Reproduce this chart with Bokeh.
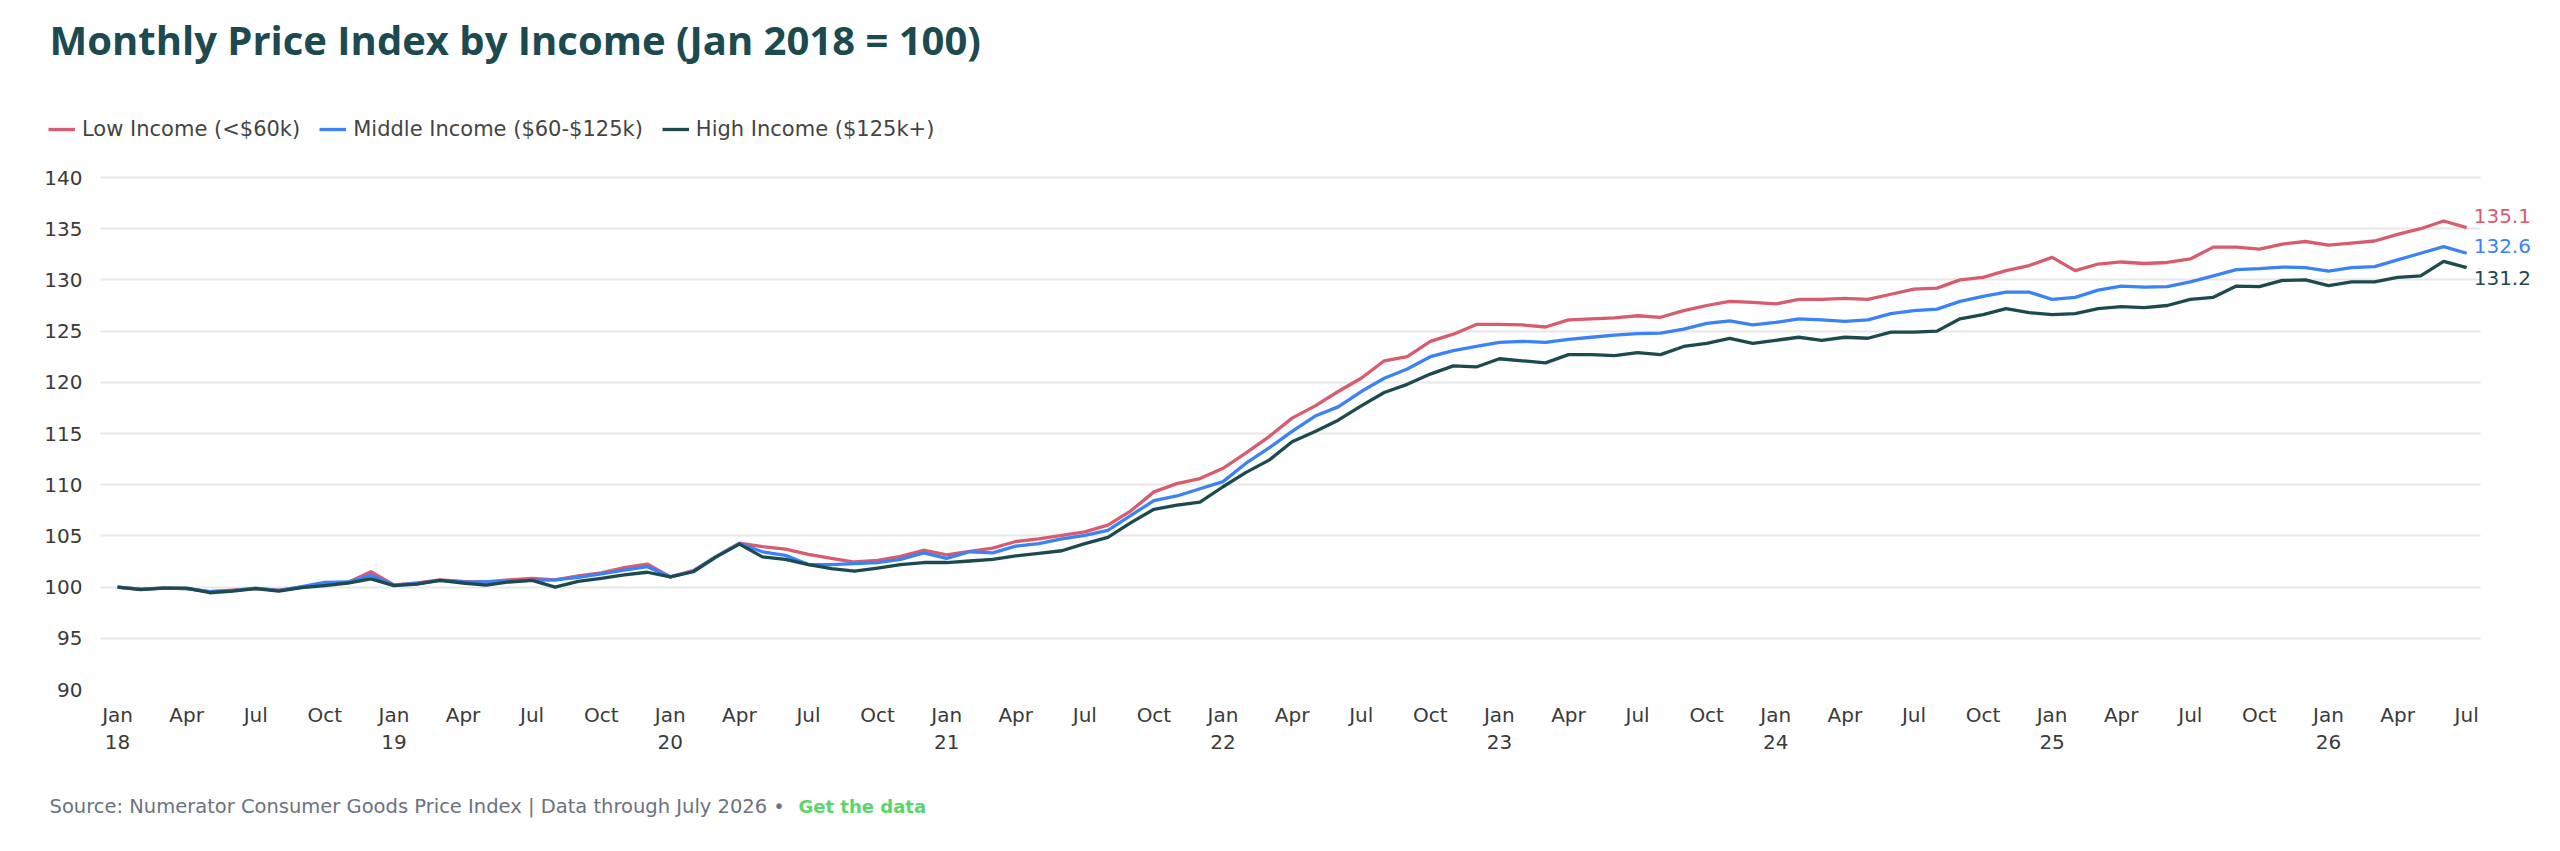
from bokeh.plotting import figure
from bokeh.layouts import column
from bokeh.models import (ColumnDataSource, Range1d, FixedTicker, Legend, LegendItem, Label)
from bokeh.embed import file_html
from bokeh.resources import INLINE

# monthly index, Jan 2018 .. Jul 2026 (Jan 2018 = 100)
low = [100.0, 99.8, 99.9, 99.85, 99.55, 99.7, 99.85, 99.7, 100.0, 100.35, 100.45, 101.5,
       100.2, 100.4, 100.7, 100.55, 100.5, 100.7, 100.85, 100.7, 101.1, 101.4, 101.9, 102.25,
       101.0, 101.6, 103.0, 104.3, 103.95, 103.7, 103.2, 102.8, 102.45, 102.6, 103.0, 103.6,
       103.15, 103.5, 103.8, 104.45, 104.7, 105.05, 105.4, 106.05, 107.45, 109.3, 110.1, 110.6,
       111.6, 113.1, 114.7, 116.5, 117.7, 119.1, 120.4, 122.1, 122.5, 124.0, 124.7, 125.65,
       125.65, 125.6, 125.4, 126.1, 126.2, 126.3, 126.5, 126.35, 127.0, 127.5, 127.9, 127.8,
       127.65, 128.1, 128.1, 128.2, 128.1, 128.6, 129.1, 129.2, 130.0, 130.25, 130.9, 131.4,
       132.2, 130.9, 131.55, 131.75, 131.6, 131.7, 132.05, 133.2, 133.2, 133.0, 133.5, 133.75,
       133.4, 133.6, 133.8, 134.45, 135.0, 135.75, 135.1]
middle = [100.0, 99.8, 99.9, 99.85, 99.55, 99.65, 99.9, 99.65, 100.05, 100.45, 100.5, 101.15,
          100.2, 100.35, 100.65, 100.5, 100.5, 100.6, 100.65, 100.7, 100.95, 101.3, 101.65, 102.0,
          101.0, 101.55, 103.0, 104.25, 103.45, 103.1, 102.2, 102.2, 102.3, 102.4, 102.7, 103.35,
          102.8, 103.45, 103.35, 104.0, 104.25, 104.7, 105.05, 105.55, 107.0, 108.45, 108.9, 109.6,
          110.3, 112.1, 113.6, 115.2, 116.7, 117.6, 119.1, 120.4, 121.3, 122.5, 123.1, 123.5,
          123.9, 124.0, 123.9, 124.2, 124.4, 124.6, 124.75, 124.8, 125.2, 125.75, 126.0, 125.6,
          125.85, 126.2, 126.1, 125.95, 126.1, 126.7, 127.0, 127.15, 127.9, 128.4, 128.8, 128.8,
          128.1, 128.3, 129.0, 129.4, 129.3, 129.35, 129.8, 130.4, 131.0, 131.1, 131.25, 131.2,
          130.85, 131.2, 131.3, 131.95, 132.6, 133.25, 132.6]
high = [100.0, 99.75, 99.9, 99.9, 99.45, 99.6, 99.85, 99.6, 99.95, 100.15, 100.4, 100.8,
        100.15, 100.3, 100.65, 100.4, 100.2, 100.5, 100.65, 100.0, 100.55, 100.85, 101.2, 101.45,
        101.0, 101.5, 102.95, 104.2, 102.95, 102.7, 102.2, 101.8, 101.55, 101.85, 102.2, 102.4,
        102.4, 102.55, 102.7, 103.05, 103.3, 103.55, 104.25, 104.85, 106.3, 107.6, 108.0, 108.3,
        109.8, 111.2, 112.4, 114.2, 115.2, 116.3, 117.7, 119.0, 119.8, 120.8, 121.6, 121.5,
        122.3, 122.1, 121.9, 122.7, 122.7, 122.6, 122.9, 122.7, 123.5, 123.8, 124.3, 123.8,
        124.1, 124.4, 124.1, 124.4, 124.3, 124.9, 124.9, 125.0, 126.2, 126.6, 127.2, 126.8,
        126.6, 126.7, 127.2, 127.4, 127.3, 127.5, 128.1, 128.3, 129.4, 129.35, 129.95, 130.0,
        129.45, 129.8, 129.8, 130.25, 130.4, 131.8, 131.2]

month_abbr = ["Jan", "Feb", "Mar", "Apr", "May", "Jun", "Jul", "Aug", "Sep", "Oct", "Nov", "Dec"]
first_year = 2018
y_ticks = [90, 95, 100, 105, 110, 115, 120, 125, 130, 135, 140]
names = ["Low Income (<$60k)", "Middle Income ($60-$125k)", "High Income ($125k+)"]
colors = ["#d95b6e", "#3b82f6", "#1c4a4e"]

FONT = "DejaVu Sans"
TITLE_FONT = "Open Sans"
W = 2552
LEFT = 48          # frame starts here; title and legend live inside the frame
x = list(range(len(low)))
src = ColumnDataSource(dict(x=x, low=low, middle=middle, high=high))

# grid area: 2380px wide for x in [x0, x1], 512px high for 90..140
x0, x1 = -0.74, len(low) - 1 + 0.6
px_x = 2380 / (x1 - x0)
grid_left = 100
frame_h = 689
px_y = 512 / 50.0

p = figure(width=W, height=769, output_backend="svg", toolbar_location=None,
           x_range=Range1d(x0 - (grid_left - LEFT) / px_x, x0 + (W - grid_left) / px_x),
           y_range=Range1d(90, 140 + (frame_h - 512) / px_y),
           min_border_left=LEFT, min_border_right=0, min_border_top=0, min_border_bottom=80)
p.outline_line_color = None

lines = []
for col, c in zip(["low", "middle", "high"], colors):
    lines.append(p.line("x", col, source=src, line_color=c, line_width=3.3, line_join="round"))

# axes
tick_pos = list(range(0, len(low), 3))
overrides = {}
for i in tick_pos:
    m = month_abbr[i % 12]
    if i % 12 == 0:
        overrides[i] = "%s\n%02d" % (m, (first_year + i // 12) % 100)
    else:
        overrides[i] = m
p.xaxis.ticker = FixedTicker(ticks=tick_pos)
p.xaxis.major_label_overrides = overrides
p.yaxis.ticker = FixedTicker(ticks=y_ticks)
for ax in [p.xaxis[0], p.yaxis[0]]:
    ax.axis_line_color = None
    ax.major_tick_line_color = None
    ax.minor_tick_line_color = None
    ax.major_label_text_font = FONT
    ax.major_label_text_font_size = "20px"
    ax.major_label_text_color = "#3a3a3a"
p.xaxis.major_label_standoff = 7
p.xaxis.major_label_text_line_height = 1.15
p.yaxis.major_label_standoff = -(grid_left - 12 - LEFT)
p.xgrid.grid_line_color = None
p.ygrid.grid_line_color = "#e8e8e8"
p.ygrid.grid_line_width = 2
p.ygrid.cross_bounds = (x0, x1)

# end-of-line values
for vals, c, dy in zip([low, middle, high], colors, [12, 7, -10]):
    p.add_layout(Label(x=x[-1], y=vals[-1], text="%.1f" % vals[-1], x_offset=7, y_offset=dy,
                       text_color=c, text_font=FONT, text_font_size="20px",
                       text_baseline="middle"))

legend = Legend(items=[LegendItem(label=n, renderers=[r]) for n, r in zip(names, lines)],
                orientation="horizontal", location=(0, frame_h - 141))
legend.label_text_font = FONT
legend.label_text_font_size = "21px"
legend.label_text_color = "#444444"
legend.glyph_width = 27
legend.glyph_height = 20
legend.label_standoff = 7
legend.spacing = 19
legend.padding = 0
legend.margin = 0
legend.border_line_color = None
legend.background_fill_alpha = 0
p.add_layout(legend, "center")

p.add_layout(Label(x=1, y=frame_h - 39, x_units="screen", y_units="screen",
                   text="Monthly Price Index by Income (Jan 2018 = 100)",
                   text_font=TITLE_FONT, text_font_style="bold", text_font_size="40px",
                   text_color="#1b4a50", text_baseline="alphabetic"))

# source line
FOOT_H = 74
foot = figure(width=W, height=FOOT_H, output_backend="svg", toolbar_location=None,
              x_range=Range1d(0, W - LEFT), y_range=Range1d(0, FOOT_H),
              x_axis_type=None, y_axis_type=None,
              min_border_left=LEFT, min_border_right=0, min_border_top=0, min_border_bottom=0)
foot.outline_line_color = None
foot.grid.grid_line_color = None
foot.add_layout(Label(x=1, y=37, text="Source: Numerator Consumer Goods Price Index | Data through July 2026 \u2022",
                      text_font=FONT, text_font_size="19.5px", text_color="#6b7280",
                      text_baseline="alphabetic"))
foot.add_layout(Label(x=750, y=37, text="Get the data", text_font=FONT, text_font_style="bold",
                      text_font_size="18px", text_color="#5bd46b", text_baseline="alphabetic"))

open("out.html", "w").write(file_html(column(p, foot), INLINE))
